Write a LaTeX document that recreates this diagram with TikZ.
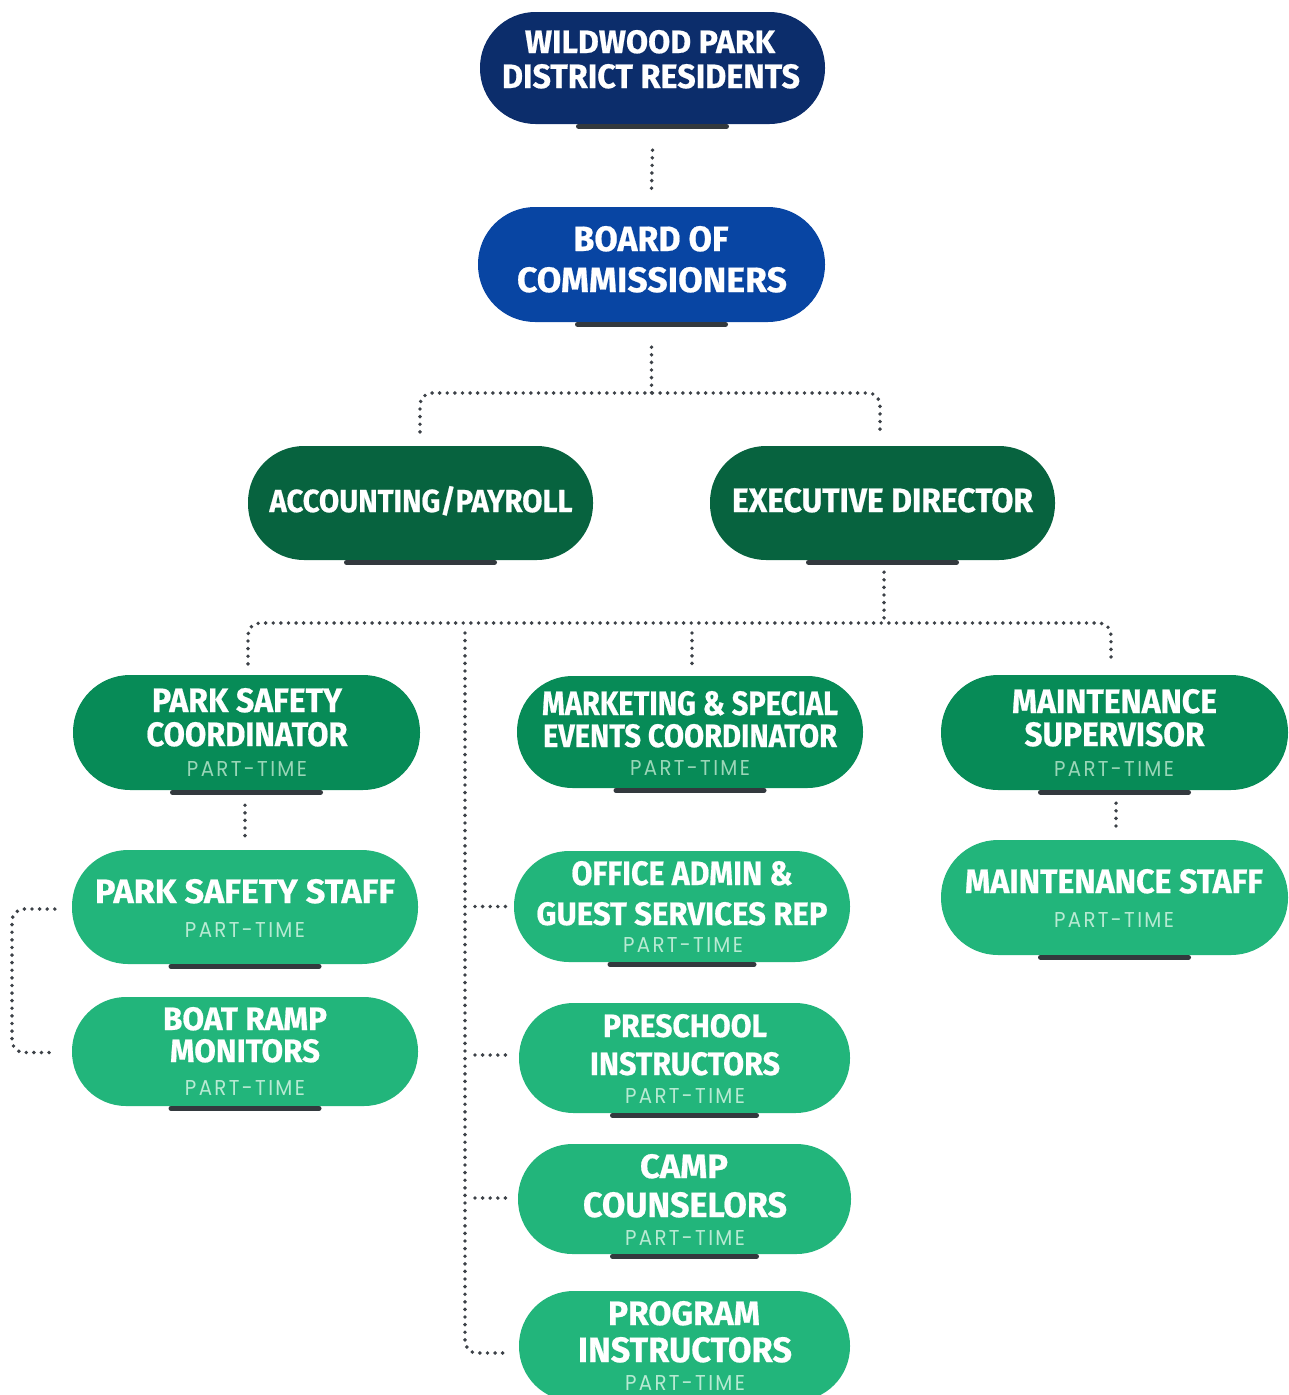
\documentclass[tikz,border=0pt]{standalone}
\usepackage{fontspec}
\usepackage{graphicx}
\usetikzlibrary{calc}
\newfontfamily\bfont[FakeBold=0.6]{Fira Sans}
\newfontfamily\pfont[LetterSpace=12]{Poppins}
\definecolor{navy}{HTML}{0C2D6B}
\definecolor{royal}{HTML}{0845A3}
\definecolor{dgreen}{HTML}{07633F}
\definecolor{mgreen}{HTML}{078B57}
\definecolor{lgreen}{HTML}{22B57B}
\definecolor{barc}{HTML}{33393E}
\definecolor{dotc}{HTML}{3C4147}
\definecolor{ptm}{HTML}{9AD6B8}
\definecolor{ptl}{HTML}{B8EAD3}
\newcommand{\mytxt}[3]{\resizebox{#1pt}{#2pt}{\bfont\bfseries #3}}
\newcommand{\parttime}{\resizebox{120pt}{15pt}{\pfont PART-TIME}}
\begin{document}
\begin{tikzpicture}[x=1pt,y=-1pt,
  pill/.style={shape=rectangle, draw=none, inner sep=0pt, minimum width=346pt, minimum height=114pt, rounded corners=56pt},
  txt/.style={anchor=base, inner sep=0pt, text=white},
  ptxt/.style={anchor=base, inner sep=0pt},
  barline/.style={draw=barc, line width=5pt, line cap=round},
  dotline/.style={draw=dotc, line width=3.9pt, line cap=round, dash pattern=on 0pt off 7.6pt}]
\fill[white] (0,0) rectangle (1289,1395);
\useasboundingbox (0,0) rectangle (1289,1395);

% pills
\node[pill, fill=navy, minimum width=345pt, minimum height=112pt, rounded corners=55.5pt] (res) at (652.5,68) {};
\node[pill, fill=royal, minimum width=347pt, minimum height=115pt, rounded corners=57pt] (board) at (651.5,264.5) {};
\node[pill, fill=dgreen, minimum width=345pt] (acct) at (420.5,503) {};
\node[pill, fill=dgreen, minimum width=345pt] (exec) at (882.5,503) {};
\node[pill, fill=mgreen, minimum width=347pt, minimum height=115pt, rounded corners=57pt] (psc) at (246.5,732.5) {};
\node[pill, fill=mgreen, minimum height=112pt, rounded corners=55.5pt] (mkt) at (690,732) {};
\node[pill, fill=mgreen, minimum width=347pt, minimum height=115pt, rounded corners=57pt] (ms) at (1114.5,732.5) {};
\node[pill, fill=lgreen] (pss) at (245,907) {};
\node[pill, fill=lgreen, minimum height=109pt, rounded corners=54pt] (boat) at (245,1051.5) {};
\node[pill, fill=lgreen, minimum width=336pt, minimum height=111pt, rounded corners=55pt] (office) at (682,906.5) {};
\node[pill, fill=lgreen, minimum width=331pt, minimum height=110pt, rounded corners=54.5pt] (pre) at (684.5,1058) {};
\node[pill, fill=lgreen, minimum width=333pt, minimum height=110pt, rounded corners=54.5pt] (camp) at (684.5,1199) {};
\node[pill, fill=lgreen, minimum width=331pt, minimum height=110pt, rounded corners=54.5pt] (prog) at (684.5,1346) {};
\node[pill, fill=lgreen, minimum width=347pt, minimum height=115pt, rounded corners=57pt] (mst) at (1114.5,897.5) {};

% bars
\foreach \n/\w in {res/74,board/74,acct/74,exec/74,psc/74,mkt/74,ms/74,pss/74,boat/74,office/72,pre/72,camp/72,prog/72,mst/74}{
  \draw[barline] ($(\n.south)+(-\w,2)$) -- ($(\n.south)+(\w,2)$);
}

% titles
\node[txt] (res1) at (650,53) {\mytxt{250}{23}{WILDWOOD PARK}};
\node[txt] (res2) at (651,88) {\mytxt{298}{24}{DISTRICT RESIDENTS}};
\node[txt] (board1) at (651,251) {\mytxt{155}{25}{BOARD OF}};
\node[txt] (board2) at (652,292) {\mytxt{270}{25}{COMMISSIONERS}};
\node[txt] (acct1) at (421,512) {\mytxt{303}{26}{ACCOUNTING/PAYROLL}};
\node[txt] (exec1) at (882.5,512) {\mytxt{301}{24}{EXECUTIVE DIRECTOR}};
\node[txt] (psc1) at (247,712) {\mytxt{190}{24}{PARK SAFETY}};
\node[txt] (psc2) at (247,746) {\mytxt{201}{24}{COORDINATOR}};
\node[txt] (mkt1) at (690,715) {\mytxt{296}{24}{MARKETING \& SPECIAL}};
\node[txt] (mkt2) at (690,747) {\mytxt{294}{23}{EVENTS COORDINATOR}};
\node[txt] (ms1) at (1114.5,713) {\mytxt{205}{24}{MAINTENANCE}};
\node[txt] (ms2) at (1114.5,746) {\mytxt{180}{24}{SUPERVISOR}};
\node[txt] (pss1) at (245,903) {\mytxt{300}{24}{PARK SAFETY STAFF}};
\node[txt] (boat1) at (245,1030) {\mytxt{164}{23}{BOAT RAMP}};
\node[txt] (boat2) at (245,1062) {\mytxt{150}{23}{MONITORS}};
\node[txt] (office1) at (682,885) {\mytxt{221}{24}{OFFICE ADMIN \&}};
\node[txt] (office2) at (682,925) {\mytxt{291}{23}{GUEST SERVICES REP}};
\node[txt] (pre1) at (685,1037) {\mytxt{164}{23}{PRESCHOOL}};
\node[txt] (pre2) at (685,1075) {\mytxt{190}{23}{INSTRUCTORS}};
\node[txt] (camp1) at (684,1178) {\mytxt{88}{24}{CAMP}};
\node[txt] (camp2) at (685,1217) {\mytxt{204}{25}{COUNSELORS}};
\node[txt] (prog1) at (684,1325) {\mytxt{152}{24}{PROGRAM}};
\node[txt] (prog2) at (685,1362) {\mytxt{214}{25}{INSTRUCTORS}};
\node[txt] (mst1) at (1114,893) {\mytxt{298}{24}{MAINTENANCE STAFF}};

% part-time labels
\node[ptxt, text=ptm] (pt1) at (247,776) {\parttime};
\node[ptxt, text=ptm] (pt2) at (690,775) {\parttime};
\node[ptxt, text=ptm] (pt3) at (1114,776) {\parttime};
\node[ptxt, text=ptl] (pt4) at (245,937) {\parttime};
\node[ptxt, text=ptl] (pt5) at (245,1095) {\parttime};
\node[ptxt, text=ptl] (pt6) at (683,952) {\parttime};
\node[ptxt, text=ptl] (pt7) at (685,1103) {\parttime};
\node[ptxt, text=ptl] (pt8) at (685,1245) {\parttime};
\node[ptxt, text=ptl] (pt9) at (685,1390) {\parttime};
\node[ptxt, text=ptl] (pt10) at (1114,927) {\parttime};

% connectors
\draw[dotline] ($(res.south)+(0,26)$) -- ($(board.north)+(0,-17)$);

\coordinate (bj) at (651.5,393);
\draw[dotline] ($(board.south)+(0,25)$) -- (bj);
\draw[dotline, rounded corners=12pt] ($(acct.north)+(-0.5,-14)$) |- (bj) -| ($(exec.north)+(-2.5,-14)$);

\coordinate (hy) at (0,623);
\coordinate (ej) at ($(exec.south |- hy)+(1.5,0)$);
\draw[dotline] ($(exec.south)+(1.5,12)$) -- (ej);
\coordinate (mj) at ($(mkt.north |- hy)+(2,0)$);
\draw[dotline, rounded corners=12pt] ($(psc.north)+(1.5,-11)$) |- (mj) -| ($(ms.north)+(-3.5,-11)$);
\draw[dotline] ($(mj)+(0,10)$) -- ($(mkt.north)+(2,-11)$);

\coordinate (spine) at (465,633);
\draw[dotline, rounded corners=12pt] (spine) |- ($(prog.west)+(-11,7)$);
\draw[dotline] ($(spine |- office.west)+(10,0)$) -- ($(office.west)+(-6,0)$);
\draw[dotline] ($(spine |- pre.west)+(10,-3)$) -- ($(pre.west)+(-9,-3)$);
\draw[dotline] ($(spine |- camp.west)+(10,-1)$) -- ($(camp.west)+(-9,-1)$);

\draw[dotline] ($(psc.south)+(-1.5,15)$) -- ($(pss.north)+(0,-12)$);
\coordinate (lb) at (12,980);
\draw[dotline, rounded corners=12pt] ($(pss.west)+(-17,2)$) -| (lb) |- ($(boat.west)+(-17,1)$);
\draw[dotline] ($(ms.south)+(1.5,13)$) -- ($(mst.north)+(1.5,-7)$);
\end{tikzpicture}
\end{document}
